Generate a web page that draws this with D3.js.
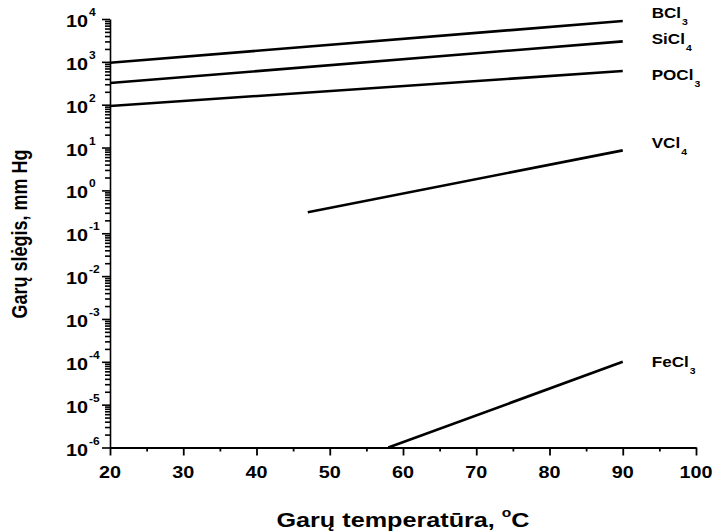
<!DOCTYPE html>
<html><head><meta charset="utf-8">
<script src="https://cdn.jsdelivr.net/npm/d3@7"></script>
<style>body{margin:0;background:#fff}svg{display:block}</style>
</head><body>
<script>
// ---- data ----
const names = ["BCl", "SiCl", "POCl", "VCl", "FeCl"];
const subs = ["3", "4", "3", "4", "3"];
const tStart = [20, 20, 20, 47, 58];
const tEnd = [90, 90, 90, 90, 90];
const pStart = [955, 320, 93, 0.31, 1e-6];
const pEnd = [8980, 3000, 612, 8.6, 1e-4];
const xTicks = [20, 30, 40, 50, 60, 70, 80, 90, 100];
const yExps = [-6, -5, -4, -3, -2, -1, 0, 1, 2, 3, 4];
const xTitle = "Garų temperatūra, ";
const yTitle = "Garų slėgis, mm Hg";

// ---- layout ----
const W = 715, H = 532;
const FONT = "'Liberation Sans', Arial, sans-serif";
const SX = 1.2; // horizontal text stretch
const labelDy = [-3, 3, 9, -2, 5];

const svg = d3.select("body").append("svg").attr("width", W).attr("height", H);
const x = d3.scaleLinear().domain([20, 100]).range([110, 696]);
const y = d3.scaleLog().domain([1e-6, 1e4]).range([447.5, 19]);

function stext(g, px, py, str, size, anchor, sx) {
  return g.append("text")
    .attr("transform", `translate(${px},${py}) scale(${sx || SX},1)`)
    .attr("font-family", FONT).attr("font-weight", "bold")
    .attr("font-size", size).attr("text-anchor", anchor || "start")
    .attr("fill", "#000").text(str);
}

// x axis
const minorX = d3.range(25, 100, 10);
const gx = svg.append("g").attr("transform", `translate(0,${y(1e-6)})`);
gx.call(d3.axisBottom(x).tickValues(xTicks).tickSize(8).tickFormat("").tickSizeOuter(0));
gx.append("g").call(d3.axisBottom(x).tickValues(minorX).tickSize(4).tickFormat("").tickSizeOuter(0))
  .select(".domain").remove();
gx.selectAll("path,line").attr("stroke", "#000").attr("stroke-width", 1.8);
xTicks.forEach(t => stext(svg, x(t), 478, String(t), 16.5, "middle"));

// y axis
const majors = yExps.map(e => Math.pow(10, e));
const minors = [];
yExps.slice(0, -1).forEach(e => { for (let k = 2; k <= 9; k++) minors.push(k * Math.pow(10, e)); });
const gy = svg.append("g").attr("transform", `translate(${x(20)},0)`);
gy.call(d3.axisLeft(y).tickValues(majors).tickSize(8).tickFormat("").tickSizeOuter(0));
gy.append("g").call(d3.axisLeft(y).tickValues(minors).tickSize(5).tickFormat("").tickSizeOuter(0))
  .select(".domain").remove();
gy.selectAll("path,line").attr("stroke", "#000").attr("stroke-width", 1.6);
yExps.forEach(e => {
  const py = y(Math.pow(10, e));
  stext(svg, 88, py + 8, "10", 16.5, "end");
  stext(svg, 89, py - 3, String(e), 10, "start");
});

// series
const line = d3.line().x(d => x(d[0])).y(d => y(d[1]));
names.forEach((n, i) => {
  const pts = [[tStart[i], pStart[i]], [tEnd[i], pEnd[i]]];
  svg.append("path").attr("d", line(pts)).attr("fill", "none")
    .attr("stroke", "#000").attr("stroke-width", 2.6);
  const lx = x(tEnd[i]) + 29, ly = y(pEnd[i]) + labelDy[i];
  const t = stext(svg, lx, ly, n, 15.5, "start", 1.1);
  const w = t.node().getComputedTextLength() * 1.1;
  stext(svg, lx + w + 1, ly + 7, subs[i], 9.5, "start", 1.1);
});

// titles
const xt = svg.append("text")
  .attr("transform", `translate(403,527) scale(${SX},1)`)
  .attr("font-family", FONT).attr("font-weight", "bold").attr("font-size", 21)
  .attr("text-anchor", "middle");
xt.append("tspan").text(xTitle);
xt.append("tspan").attr("font-size", 13).attr("dy", -10).text("o");
xt.append("tspan").attr("dy", 10).text("C");

svg.append("text")
  .attr("transform", `translate(27,234) rotate(-90) scale(1,${SX})`)
  .attr("font-family", FONT).attr("font-weight", "bold").attr("font-size", 18)
  .attr("text-anchor", "middle").text(yTitle);
</script>
</body></html>
